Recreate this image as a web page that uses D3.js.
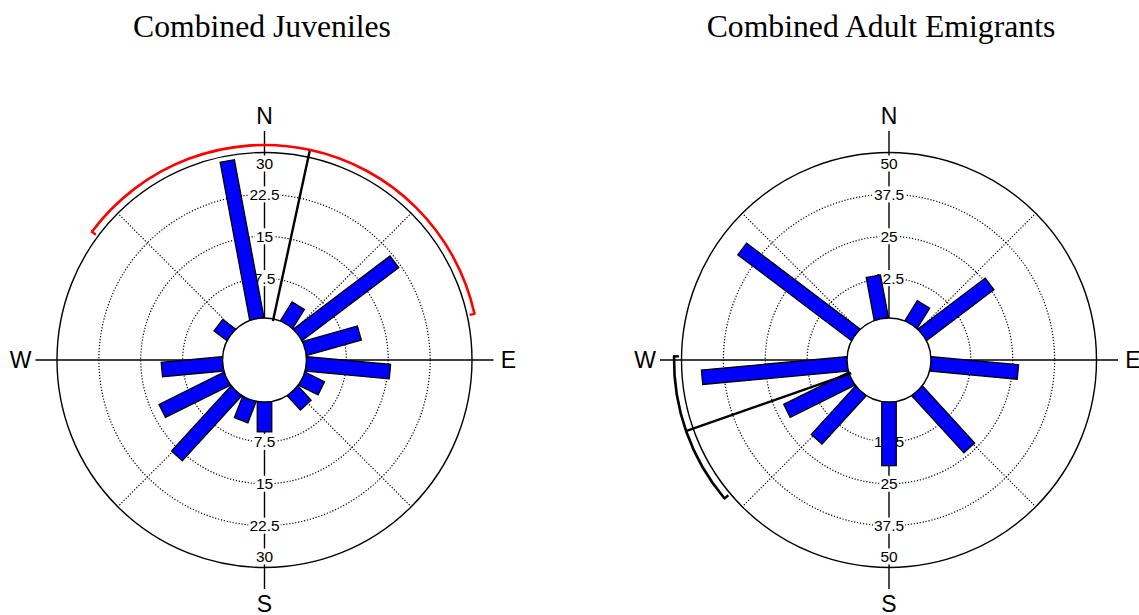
<!DOCTYPE html>
<html>
<head>
<meta charset="utf-8">
<script src="https://cdn.jsdelivr.net/npm/d3@7"></script>
<style>
  html, body { margin: 0; padding: 0; background: #fff; }
  svg { display: block; }
</style>
</head>
<body>
<svg id="chart" width="1139" height="615"></svg>
<script>
// Direction bins (bin centre, degrees clockwise from north) - 17 equal bins
const binCentres = [10.6, 31.8, 52.9, 74.1, 95.3, 116.5, 137.6, 158.8, 180.0,
                    201.2, 222.4, 243.5, 264.7, 285.9, 307.1, 328.2, 349.4];

// Frequencies per bin
const juvenileCounts = [0, 4.3, 22.0, 10.5, 15.4, 4.2, 3.8, 0, 5.7,
                        4.4, 16.1, 13.3, 11.3, 0, 3.2, 0, 29.1];
const adultCounts    = [0, 7.6, 25.7, 0, 26.7, 0, 23.6, 0, 19.6,
                        0, 20.1, 22.1, 44.1, 0, 43.0, 0, 13.5];

// Radial tick labels
const juvenileTicks = [7.5, 15, 22.5, 30];
const adultTicks    = [12.5, 25, 37.5, 50];

// Mean direction and its confidence interval (degrees)
const juvenileMean = 12.2;
const juvenileCI   = [-53.4, 77.6];
const adultMean    = 250.7;
const adultCI      = [229.9, 271.0];

const titles = ["Combined Juveniles", "Combined Adult Emigrants"];
const compass = [{t: "N", a: 0}, {t: "E", a: 90}, {t: "S", a: 180}, {t: "W", a: 270}];

const panels = [
  {title: titles[0], counts: juvenileCounts, ticks: juvenileTicks, mean: juvenileMean,
   ci: juvenileCI, ciColor: "#ff0000", cx: 264.5, cy: 360, tx: 262},
  {title: titles[1], counts: adultCounts, ticks: adultTicks, mean: adultMean,
   ci: adultCI, ciColor: "#000000", cx: 889, cy: 360, tx: 881}
];

const svg = d3.select("#chart");
const R_OUT = 207.5, R0 = 40, HOLE = 42, BAR_W = 14.5, CI_R = 215;
const rad = d => d * Math.PI / 180;

panels.forEach(p => {
  svg.append("text")
    .attr("x", p.tx).attr("y", 37)
    .attr("text-anchor", "middle")
    .style("font-family", "'Liberation Serif', 'Times New Roman', serif")
    .style("font-size", "31.7px")
    .text(p.title);

  const g = svg.append("g").attr("transform", `translate(${p.cx},${p.cy})`);
  const maxV = p.ticks[p.ticks.length - 1];
  const r = d3.scaleLinear().domain([0, maxV]).range([R0, R_OUT]);

  // dotted rings
  g.selectAll("circle.ring").data(p.ticks.slice(0, -1)).join("circle")
    .attr("class", "ring").attr("r", d => r(d))
    .attr("fill", "none").attr("stroke", "#000").attr("stroke-width", 1.2)
    .attr("stroke-dasharray", "1.2,1.8");

  // dotted diagonal spokes
  g.selectAll("line.spoke").data([45, 135, 225, 315]).join("line")
    .attr("class", "spoke")
    .attr("x1", d => HOLE * Math.sin(rad(d))).attr("y1", d => -HOLE * Math.cos(rad(d)))
    .attr("x2", d => R_OUT * Math.sin(rad(d))).attr("y2", d => -R_OUT * Math.cos(rad(d)))
    .attr("stroke", "#000").attr("stroke-width", 1.2).attr("stroke-dasharray", "1.2,1.8");

  // outer circle
  g.append("circle").attr("r", R_OUT).attr("fill", "none")
    .attr("stroke", "#000").attr("stroke-width", 1.4);

  // compass axes
  const AX = 229;
  g.append("line").attr("x1", 0).attr("y1", -AX).attr("x2", 0).attr("y2", AX)
    .attr("stroke", "#000").attr("stroke-width", 1.4);
  g.append("line").attr("x1", -AX).attr("y1", 0).attr("x2", AX).attr("y2", 0)
    .attr("stroke", "#000").attr("stroke-width", 1.4);

  g.selectAll("text.compass").data(compass).join("text")
    .attr("class", "compass")
    .attr("x", d => 244 * Math.sin(rad(d.a)))
    .attr("y", d => -244 * Math.cos(rad(d.a)))
    .attr("text-anchor", "middle").attr("dominant-baseline", "central")
    .style("font-family", "'Liberation Sans', Arial, sans-serif")
    .style("font-size", "23px")
    .text(d => d.t);

  // radial tick labels on north and south axis, with white background
  const tickPos = [];
  p.ticks.forEach((t, i) => {
    const rr = i === p.ticks.length - 1 ? r(t) - 11 : r(t);
    tickPos.push({v: t, y: -rr});
    tickPos.push({v: t, y: rr});
  });
  const labels = g.append("g");
  tickPos.forEach(d => {
    const lg = labels.append("g");
    const bg = lg.append("rect").attr("fill", "#fff");
    const txt = lg.append("text")
      .attr("x", 0).attr("y", d.y)
      .attr("text-anchor", "middle").attr("dominant-baseline", "central")
      .style("font-family", "'Liberation Sans', Arial, sans-serif")
      .style("font-size", "15.5px")
      .text(d3.format("~g")(d.v));
    const b = txt.node().getBBox();
    bg.attr("x", b.x - 1).attr("y", d.y - 8).attr("width", b.width + 2).attr("height", 16);
  });

  // frequency bars
  const data = binCentres.map((a, i) => ({a, v: p.counts[i]})).filter(d => d.v > 0);
  g.selectAll("rect.bar").data(data).join("rect")
    .attr("class", "bar")
    .attr("x", -BAR_W / 2).attr("y", d => -r(d.v))
    .attr("width", BAR_W).attr("height", d => r(d.v) - R0)
    .attr("transform", d => `rotate(${d.a})`)
    .attr("fill", "#0000ff").attr("stroke", "#000").attr("stroke-width", 1.3);

  // central hole
  g.append("circle").attr("r", HOLE).attr("fill", "#fff")
    .attr("stroke", "#000").attr("stroke-width", 1.5);

  // mean vector
  g.append("line")
    .attr("x1", R0 * Math.sin(rad(p.mean))).attr("y1", -R0 * Math.cos(rad(p.mean)))
    .attr("x2", 214.5 * Math.sin(rad(p.mean))).attr("y2", -214.5 * Math.cos(rad(p.mean)))
    .attr("stroke", "#000").attr("stroke-width", 2.4);

  // confidence interval arc with inward end caps
  const arc = d3.arc().innerRadius(CI_R - 1.3).outerRadius(CI_R + 1.3)
    .startAngle(rad(p.ci[0])).endAngle(rad(p.ci[1]));
  g.append("path").attr("d", arc()).attr("fill", p.ciColor);
  g.selectAll("line.cap").data(p.ci).join("line")
    .attr("class", "cap")
    .attr("x1", d => (CI_R + 1) * Math.sin(rad(d))).attr("y1", d => -(CI_R + 1) * Math.cos(rad(d)))
    .attr("x2", d => (CI_R - 5) * Math.sin(rad(d))).attr("y2", d => -(CI_R - 5) * Math.cos(rad(d)))
    .attr("stroke", p.ciColor).attr("stroke-width", 2.4);
});
</script>
</body>
</html>
